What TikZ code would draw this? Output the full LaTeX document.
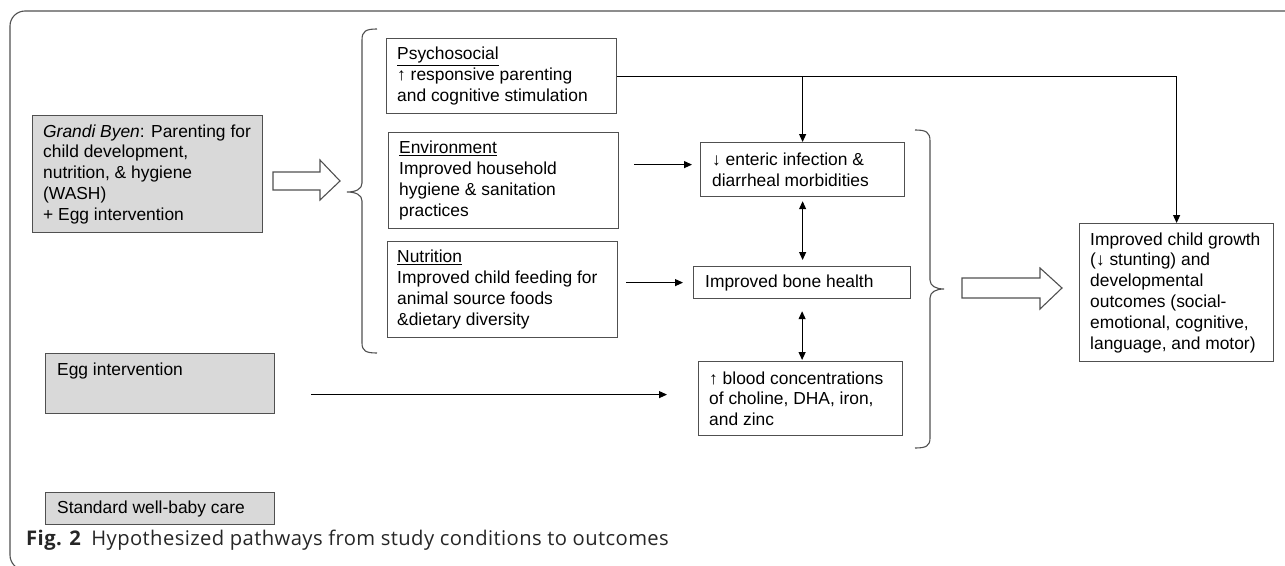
\documentclass[tikz,border=0pt]{standalone}
\usepackage{fontspec}
\setmainfont{Liberation Sans}
\newfontfamily\capfont[LetterSpace=2]{Open Sans}
\usetikzlibrary{arrows.meta,calc}
\definecolor{boxgray}{RGB}{217,217,217}
\definecolor{linegray}{RGB}{80,80,80}
\begin{document}
\begin{tikzpicture}[x=1pt,y=-1pt,
  box/.style={draw=linegray, line width=1.2pt, inner sep=0pt, anchor=north west},
  gbox/.style={box, fill=boxgray},
  txt/.style={font=\fontsize{17.4}{20.8}\selectfont, align=left, inner sep=0pt, anchor=west},
  arr/.style={-{Triangle[length=8pt,width=7pt]}, line width=1.1pt},
  darr/.style={{Triangle[length=8pt,width=7pt]}-{Triangle[length=8pt,width=7pt]}, line width=1.1pt},
  blockarrow/.style={draw=linegray, line width=1.1pt, line join=miter},
  bracestyle/.style={draw=linegray, line width=1.1pt}]
\useasboundingbox (0,0) rectangle (1285,565);
\clip (0,0) rectangle (1285,565);

% frame
\draw[line width=1.1pt, linegray, rounded corners=15pt] (1300,11) -- (10,11) -- (10,570) -- (60,570);

% boxes
\node[gbox, minimum width=230pt, minimum height=117pt] (gb) at (32,115) {};
\node[box, minimum width=230pt, minimum height=75pt] (psy) at (386,38) {};
\node[box, minimum width=230pt, minimum height=96pt] (env) at (388,132) {};
\node[box, minimum width=230pt, minimum height=96pt] (nut) at (387,241) {};
\node[box, minimum width=204pt, minimum height=54pt] (ent) at (700,142) {};
\node[box, minimum width=217pt, minimum height=32pt] (bone) at (693,266) {};
\node[box, minimum width=204pt, minimum height=74pt] (blood) at (698,361) {};
\node[box, minimum width=194pt, minimum height=138pt] (out) at (1079,223) {};
\node[gbox, minimum width=229pt, minimum height=60pt] (egg) at (45,353) {};
\node[gbox, minimum width=229pt, minimum height=32pt] (std) at (45,492) {};

% texts
\node[txt] (gbt) at ([xshift=11pt]gb.west) {\textit{Grandi Byen}: Parenting for\\child development,\\nutrition, \& hygiene\\(WASH)\\+ Egg intervention};
\node[txt] (psyt) at ([xshift=11pt]psy.west) {\underline{Psychosocial}\\↑ responsive parenting\\and cognitive stimulation};
\node[txt] (envt) at ([xshift=11pt]env.west) {\underline{Environment}\\Improved household\\hygiene \& sanitation\\practices};
\node[txt] (nutt) at ([xshift=10pt]nut.west) {\underline{Nutrition}\\Improved child feeding for\\animal source foods\\\&dietary diversity};
\node[txt] (entt) at ([xshift=12pt]ent.west) {↓ enteric infection \&\\diarrheal morbidities};
\node[txt] (bonet) at ([xshift=12pt]bone.west) {Improved bone health};
\node[txt] (bloodt) at ([xshift=11pt]blood.west) {↑ blood concentrations\\of choline, DHA, iron,\\and zinc};
\node[txt] (outt) at ([xshift=11pt]out.west) {Improved child growth\\(↓ stunting) and\\developmental\\outcomes (social-\\emotional, cognitive,\\language, and motor)};
\node[txt] (eggt) at ([xshift=12pt,yshift=-18pt]egg.north west) {Egg intervention};
\node[txt] (stdt) at ([xshift=12pt]std.west) {Standard well-baby care};

% block arrows
\draw[blockarrow] (273,172) -- (320,172) -- (320,160) -- (340,181) -- (320,200) -- (320,190) -- (273,190) -- cycle;
\draw[blockarrow] (962,278) -- (1040,278) -- (1040,268) -- (1062,288) -- (1040,309) -- (1040,298) -- (962,298) -- cycle;

% braces
\draw[bracestyle] (377,29) .. controls (366,29) and (362,31) .. (362,40) -- (362,183) .. controls (362,189) and (356,192) .. (347,192) .. controls (356,192) and (362,195) .. (362,201) -- (362,343) .. controls (362,351) and (366,353) .. (377,353);
\draw[bracestyle] (915,130) .. controls (926,130) and (930,132) .. (930,141) -- (930,280) .. controls (930,286) and (936,289) .. (944,289) .. controls (936,289) and (930,292) .. (930,298) -- (930,438) .. controls (930,446) and (926,448) .. (915,448);

% connectors
\draw[arr] (psy.east) -| (out.north);
\draw[arr] (psy.east -| ent.north) -- (ent.north);
\coordinate (ea) at ([yshift=5pt]ent.west);
\draw[arr, shorten <=15pt, shorten >=8pt] (env.east |- ea) -- (ea);
\draw[arr, shorten <=8pt, shorten >=10pt] (nut.east |- bone.west) -- (bone.west);
\coordinate (ba) at ([yshift=4pt]blood.west);
\draw[arr, shorten <=36pt, shorten >=31pt] (egg.east |- ba) -- (ba);
\draw[darr, shorten <=4pt, shorten >=6pt] (ent.south) -- (ent.south |- bone.north);
\draw[darr, shorten <=12pt, shorten >=1pt] (bone.south) -- (bone.south |- blood.north);

% caption
\node[anchor=base west, inner sep=0pt, font=\capfont\fontsize{20.2}{23}\selectfont, text=black!85] (cap) at (26,545) {\textbf{Fig. 2}\hspace{0.5em}Hypothesized pathways from study conditions to outcomes};
\end{tikzpicture}
\end{document}
